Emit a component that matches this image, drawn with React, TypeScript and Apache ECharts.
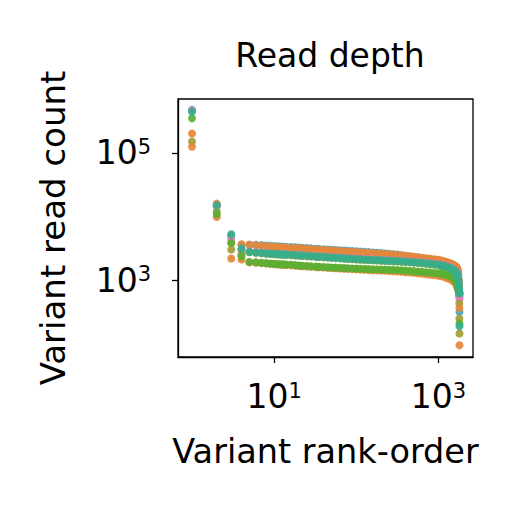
import React, { useEffect, useRef } from "react";
import * as echarts from "echarts";

// rank of each variant (shared by all samples)
const ranks = [
  1, 2, 3, 4, 5, 6, 7, 8, 9, 10, 11, 12, 13, 14, 16, 18, 20, 22, 25, 28, 32, 35, 40, 45, 50, 56, 63, 71, 79, 89,
  100, 112, 126, 141, 158, 178, 200, 224, 251, 282, 316, 355, 398, 447, 501, 562, 631, 708, 794, 891, 1000, 1080,
  1160, 1250, 1330, 1410, 1480, 1540, 1590, 1630, 1670, 1700, 1725, 1745, 1760, 1772, 1782, 1790, 1796, 1800,
];

const blueCounts = [
  470000, 15500, 5000, 3600, 3600, 3620, 3580, 3530, 3480, 3450,
  3420, 3400, 3380, 3370, 3340, 3310, 3280, 3250, 3220, 3180,
  3140, 3110, 3080, 3050, 3030, 3000, 2970, 2940, 2920, 2890,
  2860, 2830, 2810, 2780, 2750, 2720, 2690, 2650, 2620, 2580,
  2540, 2490, 2440, 2390, 2340, 2290, 2240, 2190, 2150, 2110,
  2070, 2030, 1980, 1920, 1870, 1820, 1770, 1720, 1680, 1640,
  1580, 1500, 1380, 1230, 1030, 850, 700, 650, 600, 322,
];

const orangeACounts = [
  200000, 16000, 3900, 3700, 3650, 3560, 3500, 3450, 3400, 3370,
  3340, 3320, 3300, 3290, 3260, 3230, 3200, 3170, 3140, 3100,
  3060, 3030, 3000, 2970, 2950, 2920, 2890, 2860, 2840, 2815,
  2790, 2760, 2740, 2710, 2680, 2650, 2620, 2590, 2570, 2540,
  2510, 2480, 2440, 2400, 2360, 2320, 2270, 2230, 2190, 2150,
  2110, 2060, 2010, 1950, 1900, 1850, 1800, 1750, 1700, 1650,
  1600, 1520, 1400, 1250, 1050, 850, 700, 640, 600, 560,
];

const pinkCounts = [
  460000, 14500, 4550, 3000, 2840, 2780, 2740, 2700, 2670, 2650,
  2630, 2615, 2600, 2590, 2560, 2535, 2515, 2495, 2470, 2445,
  2415, 2395, 2370, 2350, 2330, 2310, 2290, 2265, 2245, 2220,
  2200, 2185, 2170, 2155, 2140, 2125, 2110, 2095, 2080, 2065,
  2050, 2035, 2015, 1995, 1975, 1955, 1930, 1900, 1870, 1840,
  1805, 1770, 1730, 1690, 1640, 1590, 1540, 1490, 1440, 1390,
  1330, 1260, 1170, 1060, 940, 830, 740, 600, 540, 504,
];

const oliveCounts = [
  150000, 12000, 3060, 2600, 2770, 2710, 2670, 2630, 2600, 2580,
  2560, 2545, 2530, 2520, 2490, 2465, 2445, 2425, 2400, 2375,
  2345, 2325, 2300, 2280, 2260, 2240, 2220, 2195, 2175, 2150,
  2130, 2115, 2100, 2085, 2070, 2055, 2040, 2025, 2010, 1995,
  1980, 1965, 1945, 1925, 1905, 1885, 1860, 1830, 1800, 1770,
  1735, 1700, 1660, 1620, 1570, 1520, 1470, 1420, 1370, 1320,
  1260, 1190, 1100, 990, 870, 770, 660, 436, 254, 148,
];

const orangeBCounts = [
  124000, 9900, 2210, 2130, 1920, 1900, 1870, 1840, 1820, 1800,
  1785, 1770, 1760, 1750, 1730, 1710, 1690, 1675, 1660, 1645,
  1620, 1610, 1595, 1580, 1570, 1555, 1545, 1530, 1520, 1505,
  1495, 1480, 1475, 1460, 1450, 1440, 1430, 1420, 1410, 1400,
  1385, 1370, 1350, 1335, 1315, 1295, 1275, 1250, 1230, 1210,
  1190, 1170, 1140, 1100, 1070, 1040, 1000, 960, 930, 880,
  830, 780, 760, 720, 690, 670, 650, 640, 368, 97,
];

const greenCounts = [
  346000, 11000, 3880, 2400, 1950, 1935, 1900, 1870, 1850, 1830,
  1815, 1800, 1790, 1780, 1760, 1740, 1720, 1705, 1690, 1675,
  1650, 1640, 1625, 1610, 1600, 1590, 1580, 1565, 1555, 1545,
  1535, 1525, 1520, 1510, 1500, 1495, 1490, 1480, 1475, 1465,
  1455, 1445, 1430, 1415, 1400, 1385, 1370, 1350, 1330, 1310,
  1295, 1280, 1250, 1210, 1180, 1150, 1110, 1070, 1030, 980,
  920, 850, 780, 730, 700, 680, 670, 650, 630, 212,
];

const tealCounts = [
  440000, 15000, 5300, 3180, 2800, 2740, 2700, 2660, 2630, 2610,
  2590, 2575, 2560, 2550, 2520, 2495, 2475, 2455, 2430, 2405,
  2375, 2355, 2330, 2310, 2290, 2270, 2250, 2225, 2205, 2180,
  2160, 2145, 2130, 2115, 2100, 2085, 2070, 2055, 2040, 2025,
  2010, 1995, 1975, 1955, 1935, 1915, 1890, 1860, 1830, 1800,
  1765, 1730, 1690, 1650, 1600, 1550, 1500, 1450, 1400, 1350,
  1290, 1220, 1130, 1020, 900, 800, 720, 660, 625, 192,
];

// drawing order: first listed is at the back
const samples = [
  { name: "s1", color: "#3ba6c6", counts: blueCounts },
  { name: "s2", color: "#e6873a", counts: orangeACounts },
  { name: "s3", color: "#e27cc0", counts: pinkCounts },
  { name: "s4", color: "#a39d36", counts: oliveCounts },
  { name: "s5", color: "#e6873a", counts: orangeBCounts },
  { name: "s6", color: "#5aaf33", counts: greenCounts },
  { name: "s7", color: "#36ae8b", counts: tealCounts },
];

const xTicks = [10, 1000];
const yTicks = [1000, 100000];

const FONT = "DejaVu Sans";

const powLabel = (v: number) => `{b|10}{s|${Math.round(Math.log10(v))}}`;
const richPow = {
  b: { fontSize: 33, fontFamily: FONT, color: "#000" },
  s: { fontSize: 21, fontFamily: FONT, color: "#000", verticalAlign: "top" },
};

const App: React.FC = () => {
  const chartRef = useRef<HTMLDivElement>(null);

  useEffect(() => {
    if (!chartRef.current) return undefined;
    const chart = echarts.init(chartRef.current, undefined, { renderer: "svg" });

    const options: any = {
      animation: false,
      backgroundColor: "#fff",
      title: {
        text: "Read depth",
        left: 325,
        top: 34,
        textAlign: "center",
        textStyle: { fontFamily: FONT, fontSize: 33, fontWeight: "normal", color: "#000" },
      },
      grid: {
        left: 178,
        top: 99,
        right: 39,
        bottom: 155,
        show: true,
        borderColor: "#000",
        borderWidth: 1.3,
      },
      xAxis: {
        type: "log",
        logBase: 10,
        min: 0.675,
        max: 2630,
        name: "Variant rank-order",
        nameLocation: "middle",
        nameGap: 77,
        nameTextStyle: { fontFamily: FONT, fontSize: 33.5, color: "#000" },
        axisLine: { show: true, lineStyle: { color: "#000", width: 1.3 } },
        axisTick: { show: true, length: 6, lineStyle: { color: "#000", width: 1.3 }, customValues: xTicks },
        axisLabel: { margin: 23, formatter: powLabel, rich: richPow, customValues: xTicks },
        minorTick: { show: false },
        splitLine: { show: false },
      },
      yAxis: {
        type: "log",
        logBase: 10,
        min: 63.4,
        max: 695000,
        name: "Variant read count",
        nameLocation: "middle",
        nameGap: 108,
        nameTextStyle: { fontFamily: FONT, fontSize: 34, color: "#000" },
        axisLine: { show: true, lineStyle: { color: "#000", width: 1.3 } },
        axisTick: { show: true, length: 6, lineStyle: { color: "#000", width: 1.3 }, customValues: yTicks },
        axisLabel: { margin: 27, formatter: powLabel, rich: richPow, customValues: yTicks },
        minorTick: { show: false },
        splitLine: { show: false },
      },
      series: samples.map((s) => ({
        type: "scatter",
        name: s.name,
        symbol: "circle",
        symbolSize: 8,
        itemStyle: { color: s.color, opacity: 0.92 },
        data: s.counts.map((c, i) => [ranks[i], c]),
      })),
    };

    chart.setOption(options);
    return () => {
      chart.dispose();
    };
  }, []);

  return (
    <div
      ref={chartRef}
      style={{ position: "absolute", left: 0, top: 0, width: "512px", height: "512px" }}
    />
  );
};

export default App;
